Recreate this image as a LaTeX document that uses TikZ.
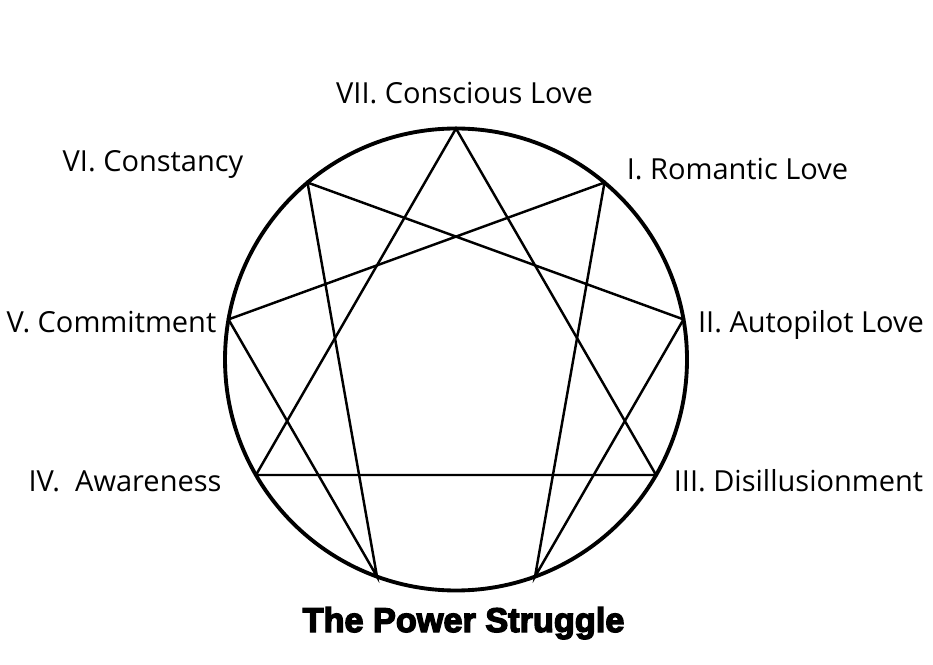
\documentclass[tikz,border=0pt]{standalone}
\usepackage{fontspec}
\setmainfont{Open Sans}
\newfontfamily\heavyfont[BoldFont={Liberation Sans Bold}, BoldFeatures={FakeBold=4}]{Liberation Sans}
\begin{document}
\begin{tikzpicture}[font=\fontsize{8.25}{10}\selectfont,
    stage/.style={inner sep=0pt, anchor=base},
    ring/.style={line width=1.1pt},
    chord/.style={line width=0.7pt}]
  \useasboundingbox (0,0) rectangle (9.33,6.64);
  \coordinate (o) at (4.56,3.045);
  % points on the circle
  \foreach \n/\a in {p9/90, p1/50, p2/10, p3/-30, p4/-70, p5/-110, p6/-150, p7/170, p8/130}
    \coordinate (\n) at ([shift={(\a:2.31)}]o);
  \draw[chord] (p9) -- (p3) -- (p6) -- cycle;
  \draw[chord] (p1) -- (p4) -- (p2) -- (p8) -- (p5) -- (p7) -- cycle;
  \draw[ring] (o) circle (2.31);
  \node[stage] (love) at (4.645,5.60) {VII. Conscious Love};
  \node[stage] (constancy) at (1.53,4.92) {VI. Constancy};
  \node[stage] (romantic) at (7.375,4.84) {I. Romantic Love};
  \node[stage] (commit) at (1.115,3.31) {V. Commitment};
  \node[stage] (autopilot) at (8.11,3.31) {II. Autopilot Love};
  \node[stage] (aware) at (1.25,1.73) {IV.\ \ Awareness};
  \node[stage] (disill) at (7.985,1.72) {III. Disillusionment};
  \node[stage, font=\heavyfont\bfseries\fontsize{9.75}{11}\selectfont] (power) at (4.635,0.32) {The Power Struggle};
\end{tikzpicture}
\end{document}
